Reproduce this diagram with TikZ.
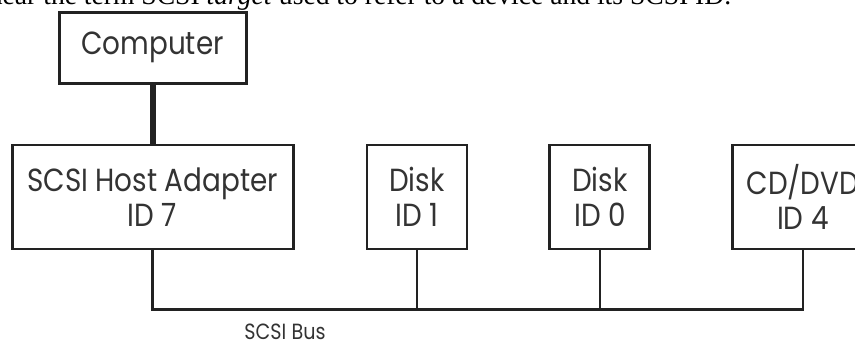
\documentclass[tikz,border=0pt]{standalone}
\usepackage{fontspec}
\setmainfont{Liberation Serif}
\newfontfamily\boxfont{Poppins}[FakeStretch=0.87]
\usetikzlibrary{positioning}
\definecolor{SCSILine}{HTML}{222222}
\definecolor{SCSIText}{HTML}{333333}

\begin{document}
\begin{tikzpicture}[
  node distance=60pt,
  unit/.style={draw=SCSILine, line width=2.2pt, minimum height=78pt, align=center, inner sep=0pt, text=SCSIText, font=\boxfont\fontsize{24}{26.25}\selectfont},
  link/.style={draw=SCSILine, line width=4.5pt},
  bus/.style={draw=SCSILine, line width=2pt}
]
\useasboundingbox (0,0) rectangle (641.25pt,-257.25pt);
\node[anchor=base west, inner sep=0pt, font=\fontsize{20.7}{24}\selectfont] (lead) at (-8.5pt,-3.5pt) {hear the term SCSI \textit{target} used to refer to a device and its SCSI ID.};
\node[unit, minimum width=210.75pt] (host) at (114.4pt,-147.75pt) {SCSI Host Adapter\\ID 7};
\node[unit, minimum width=140.25pt, minimum height=53.25pt, above=44.25pt of host] (comp) {Computer};
\node[unit, minimum width=75pt, right=53.25pt of host] (disk1) {Disk\\ID 1};
\node[unit, minimum width=75pt, right=of disk1] (disk0) {Disk\\ID 0};
\node[unit, minimum width=105pt, right=of disk0] (cd) {CD/DVD\\ID 4};
\coordinate[below=44.25pt of host.south] (bus);
\draw[link] (comp) -- (host);
\draw[bus] (host.south) -- (bus) -| (cd.south);
\draw[bus] (disk1.south) -- (disk1.south |- bus);
\draw[bus] (disk0.south) -- (disk0.south |- bus);
\node[text=SCSIText, inner sep=0.5pt, font=\boxfont\fontsize{16.5}{18}\selectfont] (buslbl) at (213.75pt,-249pt) {SCSI Bus};
\end{tikzpicture}
\end{document}
